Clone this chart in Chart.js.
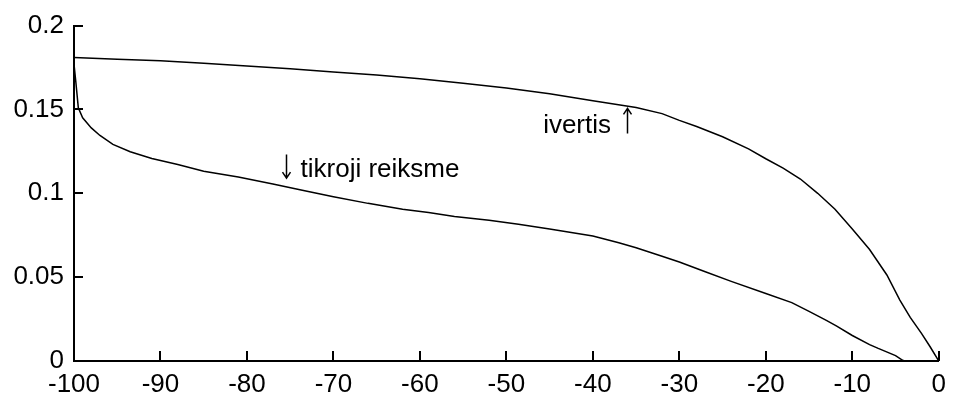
<!DOCTYPE html>
<html>
<head>
<meta charset="utf-8">
<script src="https://cdn.jsdelivr.net/npm/chart.js@4.4.1/dist/chart.umd.min.js"></script>
<style>
  html, body { margin: 0; padding: 0; background: #fff; }
  #wrap { width: 954px; height: 399px; }
</style>
</head>
<body>
<div id="wrap"><canvas id="plot"></canvas></div>
<script>
// estimate curve ("ivertis")
const ivertisX = [-100, -95, -90, -85, -80, -75, -70, -65, -60, -55, -50, -45, -40, -35, -32, -30, -28, -25, -22, -20, -18, -16, -14, -12, -10, -8, -6, -4.5, -3.3, -2, -1, 0];
const ivertisY = [0.181, 0.180, 0.179, 0.1776, 0.1759, 0.1742, 0.1723, 0.1706, 0.1683, 0.1656, 0.1628, 0.1593, 0.1552, 0.1512, 0.1475, 0.1435, 0.1398, 0.1337, 0.1265, 0.1206, 0.115, 0.1085, 0.100, 0.0905, 0.0787, 0.0665, 0.0513, 0.0363, 0.026, 0.0165, 0.0085, 0];

// true value curve ("tikroji reiksme")
const tikrojiX = [-100, -99.8, -99.5, -99, -98, -97, -95.5, -93.5, -91, -88, -85, -81, -77, -73.6, -70, -66, -62, -59, -56, -52, -48.6, -45, -40, -37, -35, -32, -30, -27, -24, -20, -17, -15, -13, -11.8, -10, -8, -7, -5, -4.3, -4, 0];
const tikrojiY = [0.177, 0.167, 0.151, 0.145, 0.139, 0.1345, 0.1292, 0.1248, 0.1208, 0.1172, 0.1132, 0.1097, 0.1056, 0.1018, 0.098, 0.094, 0.0905, 0.0885, 0.0862, 0.0839, 0.0815, 0.0787, 0.0745, 0.0705, 0.0675, 0.0625, 0.059, 0.0532, 0.0475, 0.0403, 0.0348, 0.0296, 0.0242, 0.0208, 0.0152, 0.0098, 0.0075, 0.0032, 0.0008, 0, 0];

const xTickLabels = ['-100', '-90', '-80', '-70', '-60', '-50', '-40', '-30', '-20', '-10', '0'];
const yTickLabels = ['0', '0.05', '0.1', '0.15', '0.2'];

const FONT = 'Liberation Sans, Arial, sans-serif';

function toPoints(xs, ys) {
  return xs.map((x, i) => ({ x: x, y: ys[i] }));
}

// tick marks pointing into the plot, like the original
const innerTicks = {
  id: 'innerTicks',
  afterDraw(chart) {
    const ctx = chart.ctx, a = chart.chartArea;
    const xs = chart.scales.x, ys = chart.scales.y;
    ctx.save();
    ctx.strokeStyle = '#000';
    ctx.lineWidth = 2;
    ctx.beginPath();
    xTickLabels.map(Number).forEach(v => {
      const px = Math.round(xs.getPixelForValue(v));
      ctx.moveTo(px, a.bottom);
      ctx.lineTo(px, a.bottom - 10);
    });
    yTickLabels.map(Number).forEach(v => {
      const py = Math.round(ys.getPixelForValue(v));
      ctx.moveTo(a.left, py);
      ctx.lineTo(a.left + 9, py);
    });
    ctx.stroke();
    ctx.restore();
  }
};

// text labels on the curves, each with a thin arrow
function arrow(ctx, x, yTail, yTip) {
  const dir = yTip < yTail ? 1 : -1;
  ctx.beginPath();
  ctx.moveTo(x, yTail);
  ctx.lineTo(x, yTip);
  ctx.moveTo(x - 4, yTip + dir * 6);
  ctx.lineTo(x, yTip);
  ctx.lineTo(x + 4, yTip + dir * 6);
  ctx.stroke();
}

const notes = {
  id: 'notes',
  afterDraw(chart) {
    const ctx = chart.ctx;
    const xs = chart.scales.x, ys = chart.scales.y;
    ctx.save();
    ctx.fillStyle = '#000';
    ctx.strokeStyle = '#000';
    ctx.lineWidth = 1.5;
    ctx.font = '26px ' + FONT;
    ctx.textBaseline = 'middle';
    ctx.textAlign = 'right';
    ctx.fillText('ivertis', xs.getPixelForValue(-37.9), ys.getPixelForValue(0.1405));
    arrow(ctx, Math.round(xs.getPixelForValue(-36.1)) + 0.5, ys.getPixelForValue(0.1357), ys.getPixelForValue(0.1506));
    arrow(ctx, Math.round(xs.getPixelForValue(-75.5)) + 0.5, ys.getPixelForValue(0.1232), ys.getPixelForValue(0.1090));
    ctx.textAlign = 'left';
    ctx.fillText('tikroji reiksme', xs.getPixelForValue(-73.8), ys.getPixelForValue(0.1137));
    ctx.restore();
  }
};

new Chart(document.getElementById('plot'), {
  type: 'scatter',
  data: {
    datasets: [{
      label: 'ivertis',
      data: toPoints(ivertisX, ivertisY),
      showLine: true,
      borderColor: '#000',
      borderWidth: 1.5,
      pointRadius: 0,
      tension: 0
    },
    {
      label: 'tikroji reiksme',
      data: toPoints(tikrojiX, tikrojiY),
      showLine: true,
      borderColor: '#000',
      borderWidth: 1.5,
      pointRadius: 0,
      tension: 0
    }]
  },
  options: {
    responsive: true,
    maintainAspectRatio: false,
    animation: false,
    layout: { padding: { left: 0, right: 11, top: 25, bottom: 0 } },
    plugins: {
      legend: { display: false },
      tooltip: { enabled: false }
    },
    scales: {
      x: {
        type: 'linear',
        min: -100,
        max: 0,
        afterFit: s => { s.height = 38; },
        border: { display: true, color: '#000', width: 2 },
        grid: { display: false, drawTicks: false },
        ticks: {
          stepSize: 10,
          padding: 8,
          color: '#000',
          maxRotation: 0,
          font: { family: FONT, size: 26 },
          callback: (v, i) => xTickLabels[i]
        }
      },
      y: {
        min: 0,
        max: 0.2,
        afterFit: s => { s.width = 74; },
        border: { display: true, color: '#000', width: 2 },
        grid: { display: false, drawTicks: false },
        ticks: {
          stepSize: 0.05,
          padding: 10,
          color: '#000',
          font: { family: FONT, size: 26 },
          callback: (v, i) => yTickLabels[i]
        }
      }
    }
  },
  plugins: [innerTicks, notes]
});
</script>
</body>
</html>
